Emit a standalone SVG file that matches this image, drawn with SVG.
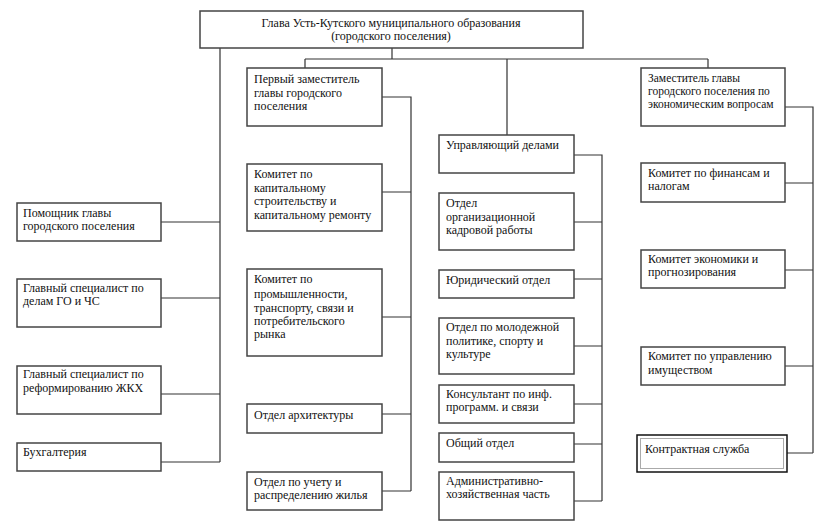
<svg xmlns="http://www.w3.org/2000/svg" width="829" height="522" viewBox="0 0 829 522">
<style>
.b{fill:#fff;stroke:#444;stroke-width:1.5}
.t{font-family:"Liberation Serif","Times New Roman",serif;font-size:12px;fill:#111}
.s{font-size:11.5px}
.c{fill:none;stroke:#333;stroke-width:1.2}
</style>
<rect width="829" height="522" fill="#fff"/>
<g id="connectors">
<path class="c" d="M220 48V462M161 222H220M161 298H220M161 394H220M161 462H220"/>
<path class="c" d="M392 48V59M305 59H708M305 59V68M708 59V68M507 59V135"/>
<path class="c" d="M382 97H411V491M382 192H411M382 317H411M382 414H411M382 491H411"/>
<path class="c" d="M574 155H602V501M574 222H602M574 279H602M574 346H602M574 404H602M574 444H602M574 501H602"/>
<path class="c" d="M785 107H813V453M785 183H813M785 270H813M785 366H813M787 453H813"/>
</g>
<g id="head"><rect class="b" x="200" y="11" width="383" height="37"/>
<text class="t" x="391" y="27" text-anchor="middle">Глава Усть-Кутского муниципального образования</text>
<text class="t" x="391" y="40" text-anchor="middle">(городского поселения)</text></g>
<g id="n1"><rect class="b" x="17" y="203" width="144" height="38"/><text class="t" x="23" y="217">Помощник главы</text><text class="t" x="23" y="230">городского поселения</text></g>
<g id="n2"><rect class="b" x="17" y="279" width="144" height="48"/><text class="t" x="23" y="292">Главный специалист по</text><text class="t" x="23" y="305">делам ГО и ЧС</text></g>
<g id="n3"><rect class="b" x="17" y="366" width="144" height="48"/><text class="t" x="23" y="378">Главный специалист по</text><text class="t" x="23" y="392">реформированию ЖКХ</text></g>
<g id="n4"><rect class="b" x="17" y="443" width="144" height="28"/><text class="t" x="23" y="456">Бухгалтерия</text></g>
<g id="m1"><rect class="b" x="247" y="68" width="135" height="58"/><text class="t" x="254" y="83">Первый заместитель</text><text class="t" x="254" y="97">главы городского</text><text class="t" x="254" y="110">поселения</text></g>
<g id="m2"><rect class="b" x="247" y="164" width="135" height="67"/><text class="t" x="254" y="178">Комитет по</text><text class="t" x="254" y="192">капитальному</text><text class="t" x="254" y="205">строительству и</text><text class="t" x="254" y="219">капитальному ремонту</text></g>
<g id="m3"><rect class="b" x="247" y="269" width="135" height="87"/><text class="t" x="254" y="283">Комитет по</text><text class="t" x="254" y="298">промышленности,</text><text class="t" x="254" y="312">транспорту, связи и</text><text class="t" x="254" y="325">потребительского</text><text class="t" x="254" y="338">рынка</text></g>
<g id="m4"><rect class="b" x="247" y="404" width="135" height="29"/><text class="t" x="254" y="419">Отдел архитектуры</text></g>
<g id="m5"><rect class="b" x="247" y="472" width="135" height="38"/><text class="t" x="254" y="486">Отдел по учету и</text><text class="t" x="254" y="499">распределению жилья</text></g>
<g id="c1"><rect class="b" x="439" y="135" width="135" height="38"/><text class="t" x="446" y="149">Управляющий делами</text></g>
<g id="c2"><rect class="b" x="439" y="193" width="135" height="57"/><text class="t" x="446" y="207">Отдел</text><text class="t" x="446" y="221">организационной</text><text class="t" x="446" y="234">кадровой работы</text></g>
<g id="c3"><rect class="b" x="439" y="270" width="135" height="28"/><text class="t" x="446" y="284">Юридический отдел</text></g>
<g id="c4"><rect class="b" x="439" y="318" width="135" height="56"/><text class="t" x="446" y="331">Отдел по молодежной</text><text class="t" x="446" y="345">политике, спорту и</text><text class="t" x="446" y="358">культуре</text></g>
<g id="c5"><rect class="b" x="439" y="385" width="135" height="38"/><text class="t" x="446" y="398">Консультант по инф.</text><text class="t" x="446" y="411">программ. и связи</text></g>
<g id="c6"><rect class="b" x="439" y="433" width="135" height="29"/><text class="t" x="446" y="447">Общий отдел</text></g>
<g id="c7"><rect class="b" x="439" y="472" width="135" height="48"/><text class="t" x="446" y="485">Административно-</text><text class="t" x="446" y="498">хозяйственная часть</text></g>
<g id="r1"><rect class="b" x="641" y="68" width="144" height="58"/><text class="t s" x="648" y="82">Заместитель главы</text><text class="t s" x="648" y="95">городского поселения по</text><text class="t s" x="648" y="108">экономическим вопросам</text></g>
<g id="r2"><rect class="b" x="641" y="163" width="144" height="39"/><text class="t" x="648" y="177">Комитет по финансам и</text><text class="t" x="648" y="190">налогам</text></g>
<g id="r3"><rect class="b" x="641" y="250" width="144" height="38"/><text class="t" x="648" y="263">Комитет экономики и</text><text class="t" x="648" y="276">прогнозирования</text></g>
<g id="r4"><rect class="b" x="641" y="347" width="144" height="38"/><text class="t" x="648" y="360">Комитет по управлению</text><text class="t" x="648" y="374">имуществом</text></g>
<g id="r5"><rect x="637" y="435" width="150" height="37" fill="#fff" stroke="#111" stroke-width="1.5"/><rect x="640.5" y="438.5" width="143" height="30" fill="none" stroke="#aaa" stroke-width="1"/><text class="t" x="645" y="453">Контрактная служба</text></g>
</svg>
